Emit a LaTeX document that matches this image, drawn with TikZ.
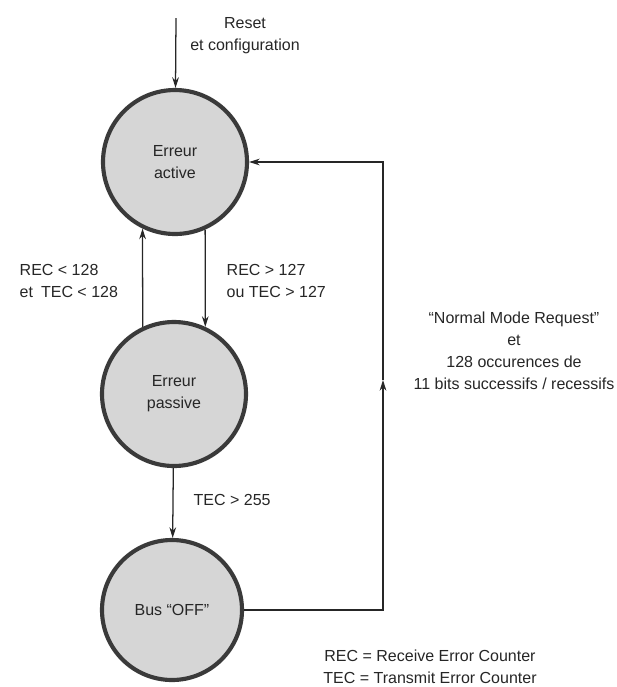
\documentclass[tikz,border=0pt]{standalone}
\usepackage{fontspec}
\setmainfont{Liberation Sans}
\usepackage{tikz}
\usetikzlibrary{arrows.meta, positioning}
\usepackage{xcolor}
\definecolor{etatfond}{HTML}{D6D6D6}
\definecolor{etatbord}{HTML}{3A3A3A}
\definecolor{encre}{HTML}{262626}

\begin{document}
\begin{tikzpicture}[x=0.75pt,y=-0.75pt,
    etat/.style={circle, fill=etatfond, draw=etatbord, line width=3.1pt, minimum size=#1, inner sep=0pt, align=center, text=encre},
    fleche/.style={line width=0.95pt, draw=encre, -{Stealth[length=8pt,width=5pt]}},
    lbl/.style={text=encre, align=#1},
    every node/.style={font=\fontsize{12}{16.5}\selectfont}]
  \useasboundingbox (0,0) rectangle (617,687);
  % les trois etats
  \node[etat=108pt] (act) at (175,162) {Erreur\\active};
  \node[etat=108pt] (pas) at (174,394) {Erreur\\passive};
  \node[etat=105pt] (off) at (172,610) {Bus \textquotedblleft OFF\textquotedblright};
  % textes
  \node[lbl=center] (reset) at (245,36) {Reset\\et configuration};
  \node[lbl=left, anchor=west] (versact) at (15,281) {REC < 128\\et\enspace TEC < 128};
  \node[lbl=left, anchor=west] (verspas) at (222,281) {REC > 127\\ou TEC > 127};
  \node[lbl=left, anchor=west] (versoff) at (189,500) {TEC > 255};
  \node[lbl=center] (retour) at (514,351) {\textquotedblleft Normal Mode Request\textquotedblright\\et\\128 occurences de\\11 bits successifs / recessifs};
  \node[lbl=center] (legende) at (430,667) {REC = Receive Error Counter\\TEC = Transmit Error Counter};
  % transitions
  \coordinate (depart) at (176,18);
  \coordinate (coin) at (383,380);
  \draw[fleche] (depart) -- (act);
  \draw[fleche] (act.294) -- (pas.65);
  \draw[fleche] (pas.115) -- (act.244);
  \draw[fleche] (pas) -- (off);
  \draw[fleche] (off.east) -| (coin);
  \draw[fleche] (coin) |- (act.east);
\end{tikzpicture}
\end{document}
